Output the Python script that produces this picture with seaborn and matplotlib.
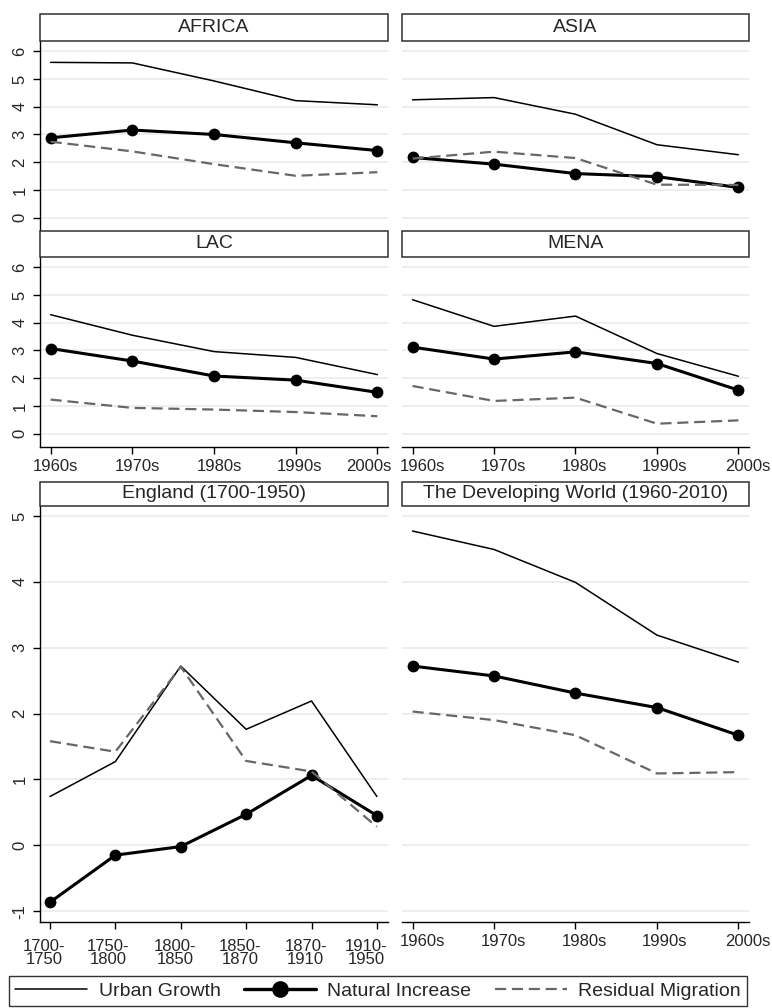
import numpy as np
import pandas as pd
import matplotlib
matplotlib.use("Agg")
import matplotlib.pyplot as plt
import matplotlib.transforms as mtransforms
from matplotlib.lines import Line2D
from matplotlib.patches import Rectangle
import seaborn as sns

# ---- data -------------------------------------------------------------
decades = ["1960s", "1970s", "1980s", "1990s", "2000s"]
england_periods = ["1700-\n1750", "1750-\n1800", "1800-\n1850",
                   "1850-\n1870", "1870-\n1910", "1910-\n1950"]

africa_urban = [5.60, 5.58, 4.93, 4.22, 4.07]
africa_natural = [2.88, 3.16, 3.00, 2.70, 2.42]
africa_residual = [2.74, 2.39, 1.93, 1.51, 1.64]

asia_urban = [4.25, 4.33, 3.73, 2.63, 2.27]
asia_natural = [2.17, 1.93, 1.59, 1.48, 1.09]
asia_residual = [2.13, 2.38, 2.15, 1.19, 1.18]

lac_urban = [4.29, 3.55, 2.96, 2.75, 2.13]
lac_natural = [3.07, 2.62, 2.08, 1.93, 1.49]
lac_residual = [1.23, 0.93, 0.87, 0.78, 0.63]

mena_urban = [4.83, 3.87, 4.24, 2.89, 2.07]
mena_natural = [3.12, 2.69, 2.95, 2.53, 1.57]
mena_residual = [1.72, 1.18, 1.30, 0.36, 0.48]

england_urban = [0.74, 1.27, 2.72, 1.76, 2.19, 0.74]
england_natural = [-0.865, -0.15, -0.02, 0.47, 1.06, 0.45]
england_residual = [1.58, 1.42, 2.71, 1.28, 1.12, 0.28]

world_urban = [4.77, 4.49, 3.99, 3.19, 2.78]
world_natural = [2.72, 2.57, 2.31, 2.09, 1.67]
world_residual = [2.03, 1.90, 1.67, 1.09, 1.11]

series_names = ["Urban Growth", "Natural Increase", "Residual Migration"]

# ---- style ------------------------------------------------------------
sns.set_style("white")
plt.rcParams["font.family"] = ["Liberation Sans", "DejaVu Sans"]
plt.rcParams["axes.unicode_minus"] = False

W, H = 772, 1008
fig = plt.figure(figsize=(W / 100, H / 100), dpi=100)

GRID = "#e8f0f2"
RESID = "#676767"


def px_axes(left, top, right, bottom):
    return fig.add_axes([left / W, 1 - bottom / H, (right - left) / W, (bottom - top) / H])


def title_box(left, top, right, bottom, text):
    fig.add_artist(Rectangle((left / W, 1 - bottom / H), (right - left) / W, (bottom - top) / H,
                             transform=fig.transFigure, facecolor="white",
                             edgecolor="#303030", lw=1.1, zorder=5))
    fig.text((left + right) / 2 / W, 1 - (top + bottom) / 2 / H, text,
             ha="center", va="center", fontsize=14, zorder=6)


def draw_panel(ax, labels, urban, natural, residual, ylim, yticks,
               show_y, show_x, xpad=3.5, label_shift=None):
    pos = np.arange(len(labels))
    df = pd.DataFrame({"pos": pos, "urban": urban, "natural": natural, "residual": residual})
    sns.lineplot(data=df, x="pos", y="urban", ax=ax, color="black", lw=1.1)
    sns.lineplot(data=df, x="pos", y="natural", ax=ax, color="black", lw=2.2,
                 marker="o", markersize=8.5, markeredgecolor="black", markeredgewidth=0)
    sns.lineplot(data=df, x="pos", y="residual", ax=ax, color=RESID, lw=1.6,
                 linestyle=(0, (5, 2.6)))
    n = len(labels)
    if n == 5:
        ax.set_xlim(-0.13, n - 1 + 0.13)
    else:
        ax.set_xlim(-0.153, n - 1 + 0.17)
    ax.set_ylim(*ylim)
    ax.set_yticks(yticks)
    ax.set_xticks(pos)
    ax.set_xticklabels(labels)
    ax.set_xlabel("")
    ax.set_ylabel("")
    ax.grid(axis="y", color=GRID, lw=1.4)
    ax.grid(axis="x", visible=False)
    ax.set_axisbelow(True)
    for s in ["top", "right"]:
        ax.spines[s].set_visible(False)
    ax.spines["left"].set_visible(show_y)
    ax.spines["bottom"].set_visible(show_x)
    for s in ["left", "bottom"]:
        ax.spines[s].set_color("black")
        ax.spines[s].set_linewidth(1.0)
    ax.tick_params(axis="y", left=show_y, labelleft=show_y, length=5, width=1,
                   direction="out", pad=4, labelsize=12, color="black")
    ax.tick_params(axis="x", bottom=show_x, labelbottom=show_x, length=5, width=1,
                   direction="out", pad=xpad, labelsize=12, color="black")
    if show_y:
        for t in ax.get_yticklabels():
            t.set_rotation(90)
            t.set_va("center")
    if show_x:
        for i, t in enumerate(ax.get_xticklabels()):
            if n == 6:
                t.set_linespacing(0.85)
            if label_shift is not None:
                dx = label_shift[i] / 100
                t.set_transform(t.get_transform() +
                                mtransforms.ScaledTranslation(dx, 0, fig.dpi_scale_trans))


top_ylim = (-0.48, 6.37)
top_ticks = [0, 1, 2, 3, 4, 5, 6]
bot_ylim = (-1.165, 5.15)
bot_ticks = [-1, 0, 1, 2, 3, 4, 5]

LX0, LX1 = 40, 388
RX0, RX1 = 402, 749

left_shift = [5, 5, 5, 4, -9]
right_shift = [10, 9, 9, 8, 9]
england_shift = [-6, -7, -6, -6, -6, -11]

# Africa
ax = px_axes(LX0, 41, LX1, 231)
draw_panel(ax, decades, africa_urban, africa_natural, africa_residual, top_ylim, top_ticks, True, False)
title_box(LX0, 14, LX1, 41, "AFRICA")
# Asia
ax = px_axes(RX0, 41, RX1, 231)
draw_panel(ax, decades, asia_urban, asia_natural, asia_residual, top_ylim, top_ticks, False, False)
title_box(RX0, 14, RX1, 41, "ASIA")
# LAC
ax = px_axes(LX0, 257, LX1, 447)
draw_panel(ax, decades, lac_urban, lac_natural, lac_residual, top_ylim, top_ticks, True, True,
           label_shift=left_shift)
title_box(LX0, 231, LX1, 257, "LAC")
# MENA
ax = px_axes(RX0, 257, RX1, 447)
draw_panel(ax, decades, mena_urban, mena_natural, mena_residual, top_ylim, top_ticks, False, True,
           label_shift=right_shift)
title_box(RX0, 231, RX1, 257, "MENA")
# England
ax = px_axes(LX0, 506, LX1, 922)
draw_panel(ax, england_periods, england_urban, england_natural, england_residual,
           bot_ylim, bot_ticks, True, True, xpad=7, label_shift=england_shift)
title_box(LX0, 482, LX1, 506, "England (1700-1950)")
# Developing world
ax = px_axes(RX0, 506, RX1, 922)
draw_panel(ax, decades, world_urban, world_natural, world_residual,
           bot_ylim, bot_ticks, False, True, xpad=4, label_shift=right_shift)
title_box(RX0, 482, RX1, 506, "The Developing World (1960-2010)")

# ---- legend -----------------------------------------------------------
handles = [
    Line2D([], [], color="black", lw=1.1),
    Line2D([], [], color="black", lw=2.4, marker="o", markersize=12, markeredgewidth=0),
    Line2D([], [], color=RESID, lw=1.6, linestyle=(0, (5, 2.6))),
]
leg = fig.legend(handles, series_names, loc="center",
                 bbox_to_anchor=(378 / W, 1 - 991 / H), ncol=3, fontsize=14,
                 frameon=True, fancybox=False, edgecolor="black",
                 handlelength=3.7, handletextpad=0.6, columnspacing=1.2,
                 borderpad=0.3, borderaxespad=0)
leg.get_frame().set_linewidth(1.0)

fig.savefig("out.png", dpi=100, facecolor="white")
